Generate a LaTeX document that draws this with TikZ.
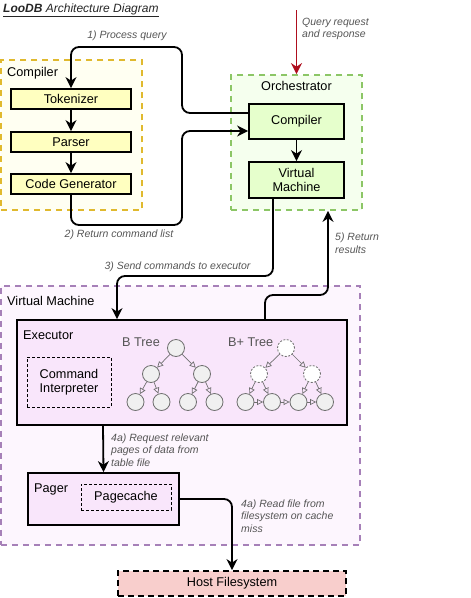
\documentclass[tikz,border=0pt]{standalone}
\usepackage{fontspec}
\setmainfont{Liberation Sans}
\usetikzlibrary{arrows.meta}
\definecolor{compstroke}{HTML}{E0B92E}
\definecolor{compfill}{HTML}{FFFFF2}
\definecolor{tokfill}{HTML}{FFFFC0}
\definecolor{orchstroke}{HTML}{8CC666}
\definecolor{orchfill}{HTML}{F5FFEE}
\definecolor{ocfill}{HTML}{E6FFCC}
\definecolor{vmstroke}{HTML}{A680B8}
\definecolor{vmfill}{HTML}{FDF6FE}
\definecolor{execfill}{HTML}{F9E6FB}
\definecolor{hostfill}{HTML}{F8CECC}
\definecolor{qred}{HTML}{AE0E1E}
\definecolor{labelgray}{HTML}{555555}
\definecolor{treestroke}{HTML}{707070}
\definecolor{treefill}{HTML}{F0F0F0}
\tikzset{
  boxfont/.style={font=\fontsize{12.7}{14.5}\selectfont},
  container/.style={draw, line width=1.7pt, dash pattern=on 6pt off 5pt, inner sep=0pt},
  solidbox/.style={draw, line width=1.8pt, inner sep=0pt, boxfont, align=center},
  dashbox/.style={draw, line width=0.8pt, dash pattern=on 3pt off 2pt, inner sep=0pt, boxfont, align=center},
  ctitle/.style={inner sep=0pt, boxfont, anchor=west},
  lbl/.style={inner sep=0pt, font=\fontsize{10.5}{12.5}\selectfont\itshape, text=labelgray, align=left},
  conn/.style={line width=1.8pt, rounded corners=8pt, -{Stealth[length=11pt,width=11pt,inset=3.5pt]}},
  tnode/.style={circle, draw=treestroke, fill=treefill, line width=0.8pt, minimum size=17pt, inner sep=0pt},
  tdash/.style={circle, draw=treestroke, fill=white, line width=0.8pt, dash pattern=on 2pt off 1.5pt, minimum size=17pt, inner sep=0pt},
  tarrow/.style={draw=treestroke, line width=0.7pt, -{Triangle[open,length=6pt,width=6pt]}},
}
\begin{document}
\begin{tikzpicture}[x=1pt,y=-1pt]
\useasboundingbox (0,0) rectangle (471,598);

% title
\node[inner sep=0pt, anchor=west, font=\fontsize{12}{14}\selectfont, text=black!85] (title) at (3,10)
  {\underline{\textbf{\textit{LooDB}} \textit{Architecture Diagram}}};

% containers
\node[container, draw=compstroke, fill=compfill, minimum width=141pt, minimum height=150pt] (comp) at (71.5,135) {};
\node[container, draw=orchstroke, fill=orchfill, minimum width=131pt, minimum height=135pt] (orch) at (296.5,142.5) {};
\node[container, draw=vmstroke, fill=vmfill, minimum width=359pt, minimum height=259pt] (vmc) at (180.5,415.5) {};

\node[ctitle] (compT) at (7,73) {Compiler};
\node[inner sep=0pt, boxfont] (orchT) at (296.5,86) {Orchestrator};
\node[ctitle] (vmcT) at (7,301) {Virtual Machine};

% compiler pipeline
\node[solidbox, fill=tokfill, minimum width=120pt, minimum height=20pt] (tok) at (71,99) {Tokenizer};
\node[solidbox, fill=tokfill, minimum width=120pt, minimum height=20pt] (par) at (71,142) {Parser};
\node[solidbox, fill=tokfill, minimum width=120pt, minimum height=20pt] (cg) at (71,184) {Code Generator};
\draw[conn] (tok) -- (par);
\draw[conn] (par) -- (cg);

% orchestrator
\node[solidbox, fill=ocfill, minimum width=95pt, minimum height=35pt] (oc) at (296.5,121.5) {Compiler};
\node[solidbox, fill=ocfill, minimum width=95pt, minimum height=36pt] (vm) at (296.5,180) {Virtual\\Machine};
\draw[conn] (oc) -- (vm);

% query in
\coordinate (qin) at (296.5,10);
\draw[line width=1.8pt, draw=qred, -{Stealth[length=11pt,width=11pt,inset=3.5pt]}, color=qred] (qin) -- (orch.north);
\node[lbl, anchor=west] (qlbl) at (302,29) {Query request\\and response};

% 1) process query
\draw[conn] ([yshift=8.5pt]oc.west) -| (182,47) -| (tok.north);
\node[lbl] (l1) at (127,36) {1) Process query};

% 2) return command list
\draw[conn] (cg.south) |- (182,225) |- ([yshift=-9.5pt]oc.west);
\node[lbl] (l2) at (119,235) {2) Return command list};

% executor
\node[solidbox, fill=execfill, minimum width=330pt, minimum height=105pt] (exec) at (182,372.5) {};
\node[ctitle] (execT) at (23,335) {Executor};
\node[dashbox, minimum width=84pt, minimum height=50pt] (cmd) at (69,382) {Command\\Interpreter};

% 3) send commands
\draw[conn] ([xshift=-23.5pt]vm.south) |- (200,276) -| ([xshift=-65pt]exec.north);
\node[lbl] (l3) at (177.5,267) {3) Send commands to executor};

% 5) return results
\coordinate (orchb) at ([xshift=31.5pt]orch.south);
\draw[conn] ([xshift=83pt]exec.north) |- (300,295) -| (orchb);
\node[lbl, anchor=west] (l5) at (335,243) {5) Return\\results};

% B tree
\node[inner sep=0pt, boxfont, text=labelgray, anchor=west] (btT) at (122,342) {B Tree};
\node[tnode] (b0) at (176,348) {};
\node[tnode] (b1) at (151,374) {};
\node[tnode] (b2) at (202,374) {};
\node[tnode] (b3) at (135.5,402) {};
\node[tnode] (b4) at (161.5,402) {};
\node[tnode] (b5) at (188,402) {};
\node[tnode] (b6) at (214.5,402) {};
\draw[tarrow] (b0) -- (b1);
\draw[tarrow] (b0) -- (b2);
\draw[tarrow] (b1) -- (b3);
\draw[tarrow] (b1) -- (b4);
\draw[tarrow] (b2) -- (b5);
\draw[tarrow] (b2) -- (b6);

% B+ tree
\node[inner sep=0pt, boxfont, text=labelgray, anchor=west] (bpT) at (228,342) {B+ Tree};
\node[tdash] (p0) at (286,348) {};
\node[tdash] (p1) at (259,374) {};
\node[tdash] (p2) at (312,374) {};
\node[tnode] (p3) at (245.5,402) {};
\node[tnode] (p4) at (272,402) {};
\node[tnode] (p5) at (298.5,402) {};
\node[tnode] (p6) at (325,402) {};
\draw[tarrow] (p0) -- (p1);
\draw[tarrow] (p0) -- (p2);
\draw[tarrow] (p1) -- (p3);
\draw[tarrow] (p1) -- (p4);
\draw[tarrow] (p2) -- (p5);
\draw[tarrow] (p2) -- (p6);
\draw[tarrow] (p3) -- (p4);
\draw[tarrow] (p4) -- (p5);
\draw[tarrow] (p5) -- (p6);

% pager
\node[solidbox, fill=execfill, minimum width=151pt, minimum height=52pt] (pager) at (103.5,499) {};
\node[ctitle] (pagerT) at (34,489) {Pager};
\node[dashbox, minimum width=90pt, minimum height=26pt] (pc) at (126,497) {Pagecache};

% 4a) request
\draw[conn] ([xshift=-79pt]exec.south) -- (pager.north);
\node[lbl, anchor=west] (l4) at (111,450) {4a) Request relevant\\pages of data from\\table file};

% host
\node[solidbox, fill=hostfill, dash pattern=on 6pt off 4pt, minimum width=228pt, minimum height=25pt] (host) at (232,583.5) {Host Filesystem};
\draw[conn] (pager.east) -| (host.north);
\node[lbl, anchor=west] (l4b) at (241,516) {4a) Read file from\\filesystem on cache\\miss};
\end{tikzpicture}
\end{document}
